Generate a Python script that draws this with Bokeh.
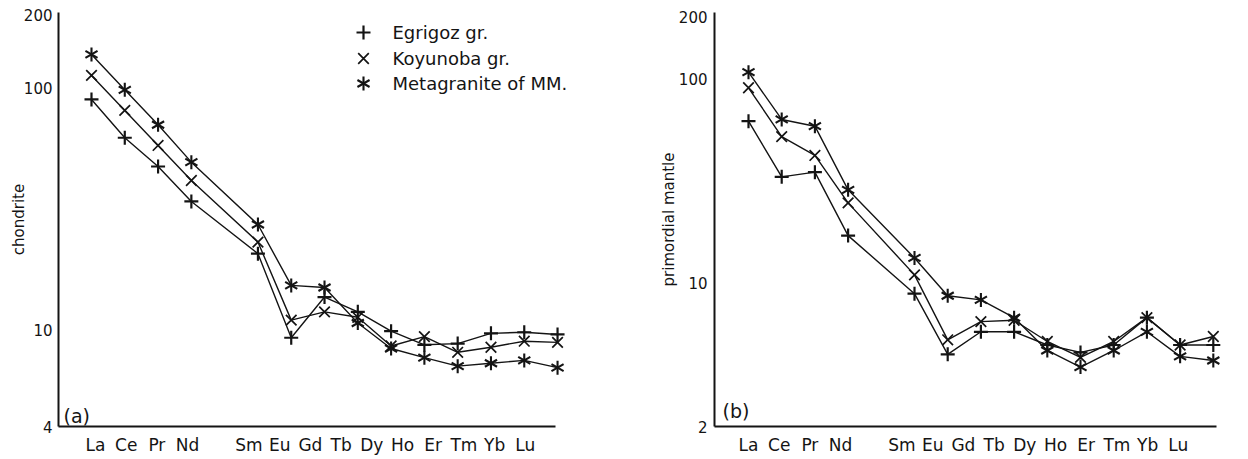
import math
from bokeh.plotting import figure
from bokeh.models import (Range1d, LinearAxis, FixedTicker, PrintfTickFormatter,
                          Label, LinearScale)
from bokeh.layouts import row
from bokeh.embed import file_html
from bokeh.resources import INLINE
from bokeh.core.properties import value

# ---------------- data ----------------
elements = ["La", "Ce", "Pr", "Nd", "Sm", "Eu", "Gd", "Tb", "Dy", "Ho", "Er", "Tm", "Yb", "Lu"]
atomic_number = [57, 58, 59, 60, 62, 63, 64, 65, 66, 67, 68, 69, 70, 71]
series_names = ["Egrigoz gr.", "Koyunoba gr.", "Metagranite of MM."]

# (a) chondrite-normalised
egrigoz_chondrite = [89.7, 62.3, 47.4, 34.0, 20.7, 9.3, 13.7, 11.9, 9.9, 8.7, 8.8, 9.7, 9.8, 9.6]
koyunoba_chondrite = [112.7, 80.8, 57.9, 41.5, 23.1, 11.0, 11.9, 11.3, 8.6, 9.4, 8.1, 8.5, 9.0, 8.9]
metagranite_chondrite = [137.6, 98.3, 70.5, 49.4, 27.3, 15.3, 15.0, 10.7, 8.4, 7.7, 7.1, 7.3, 7.5, 7.0]

# (b) primordial-mantle-normalised
egrigoz_mantle = [61.9, 33.1, 34.9, 17.1, 8.9, 4.5, 5.8, 5.8, 5.0, 4.6, 5.0, 6.8, 5.0, 5.0]
koyunoba_mantle = [90.1, 52.0, 42.1, 24.7, 11.0, 5.3, 6.5, 6.6, 5.2, 4.35, 5.2, 6.8, 5.0, 5.5]
metagranite_mantle = [107.4, 63.1, 58.5, 28.6, 13.3, 8.7, 8.3, 6.8, 4.7, 3.9, 4.7, 5.8, 4.4, 4.2]

y_ticks_chondrite = [4, 10, 100, 200]
y_ticks_mantle = [2, 10, 100, 200]

# ---------------- style ----------------
FONT = "DejaVu Sans"
INK = "#141414"
FRAME_W, FRAME_H = 509, 414
MARKERS = ["plus", "x", "star6"]


def draw_marker(p, kind, xs, ys, **kw):
    if kind == "plus":
        p.scatter(xs, ys, marker="cross", size=14, line_color=INK, line_width=2.2, **kw)
    elif kind == "x":
        p.scatter(xs, ys, marker="x", size=15, line_color=INK, line_width=1.7, **kw)
    else:
        for ang in (math.pi / 2, math.pi / 6, 5 * math.pi / 6):
            p.scatter(xs, ys, marker="dash", size=14, angle=ang, line_color=INK,
                      line_width=2.1, **kw)


def panel(xr, lab_r, lab_bounds, yr, yticks, ylabel, tag, tag_xy, series,
          min_left, tick_standoff, label_standoff, legend=False):
    p = figure(frame_width=FRAME_W, frame_height=FRAME_H,
               x_range=Range1d(*xr), y_range=Range1d(*yr), y_axis_type="log",
               x_axis_location=None, toolbar_location=None, output_backend="svg",
               min_border_left=min_left, min_border_right=0, min_border_top=12,
               min_border_bottom=0, outline_line_color=None,
               background_fill_color="white", border_fill_color="white")
    p.grid.visible = False

    ya = p.yaxis[0]
    ya.ticker = FixedTicker(ticks=yticks)
    ya.formatter = PrintfTickFormatter(format="%d")
    ya.axis_label = ylabel
    ya.axis_label_text_font = FONT
    ya.axis_label_text_font_size = "15px"
    ya.axis_label_text_font_style = "normal"
    ya.axis_label_text_color = INK
    ya.axis_label_standoff = label_standoff
    ya.major_label_text_font = FONT
    ya.major_label_text_font_size = "15px"
    ya.major_label_text_color = INK
    ya.major_label_standoff = tick_standoff
    ya.major_tick_line_color = None
    ya.minor_tick_line_color = None
    ya.major_tick_out = 0
    ya.major_tick_in = 0
    ya.axis_line_width = 2
    ya.axis_line_color = INK

    p.extra_x_ranges = {"lab": Range1d(*lab_r), "px": Range1d(0, FRAME_W)}
    p.extra_y_ranges = {"py": Range1d(0, FRAME_H)}
    p.extra_y_scales = {"py": LinearScale()}

    xa = LinearAxis(x_range_name="lab", ticker=FixedTicker(ticks=atomic_number),
                    major_label_overrides={n: e for n, e in zip(atomic_number, elements)},
                    bounds=lab_bounds)
    xa.major_label_text_font = FONT
    xa.major_label_text_font_size = "17px"
    xa.major_label_text_color = INK
    xa.major_label_standoff = 8
    xa.major_tick_line_color = None
    xa.minor_tick_line_color = None
    xa.major_tick_out = 0
    xa.major_tick_in = 0
    xa.axis_line_width = 2
    xa.axis_line_color = INK
    p.add_layout(xa, "below")

    for vals in series:
        p.line(atomic_number, vals, line_color=INK, line_width=1.4)
    for vals, kind in zip(series, MARKERS):
        draw_marker(p, kind, atomic_number, vals)

    p.add_layout(Label(x=tag_xy[0], y=tag_xy[1], x_units="screen", y_units="screen",
                       text=tag, text_font=FONT, text_font_size="19px",
                       text_color=INK, text_baseline="middle", text_align="left"))

    if legend:
        lx_marker, lx_text = 305, 334
        ly = [394, 368, 343]
        for kind, yy in zip(MARKERS, ly):
            draw_marker(p, kind, [lx_marker], [yy], x_range_name="px", y_range_name="py")
        p.text(x=[lx_text] * 3, y=ly, text=series_names, x_range_name="px",
               y_range_name="py", text_font=value(FONT), text_font_size="18px",
               text_color=INK, text_baseline="middle", text_align="left")
    return p


pa = panel(xr=(56.009, 71.299), lab_r=(55.795, 72.375), lab_bounds=(55.795, 71.984),
           yr=(4, 205), yticks=y_ticks_chondrite, ylabel="chondrite", tag="(a)",
           tag_xy=(5, 11),
           series=[egrigoz_chondrite, koyunoba_chondrite, metagranite_chondrite],
           min_left=58, tick_standoff=6, label_standoff=-7, legend=True)

pb = panel(xr=(55.976, 71.307), lab_r=(55.8925, 72.472), lab_bounds=(55.8925, 72.244),
           yr=(2, 210), yticks=y_ticks_mantle, ylabel="primordial mantle", tag="(b)",
           tag_xy=(8, 16),
           series=[egrigoz_mantle, koyunoba_mantle, metagranite_mantle],
           min_left=147, tick_standoff=7, label_standoff=-2)

layout = row(pa, pb)
open("out.html", "w").write(file_html(layout, INLINE))
